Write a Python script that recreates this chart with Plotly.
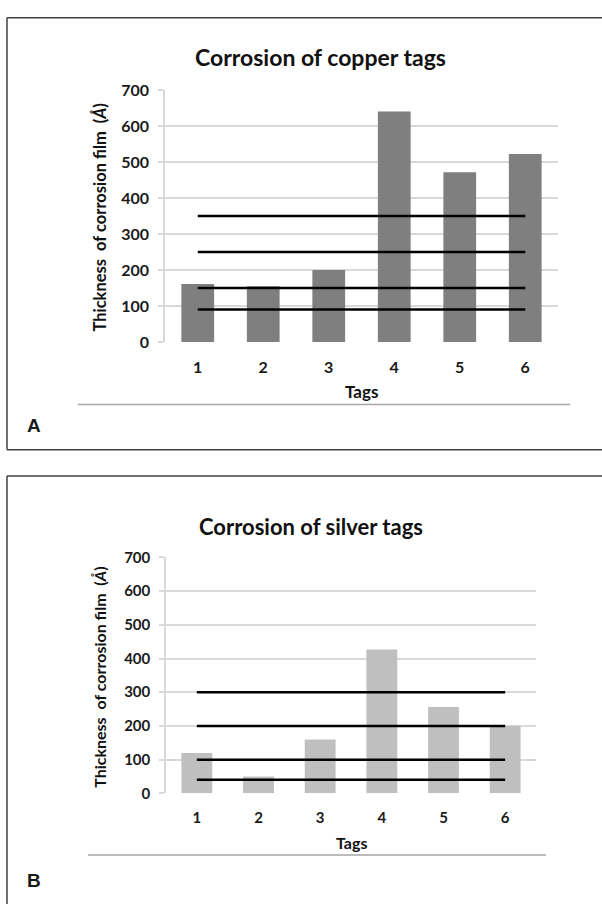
import plotly.graph_objects as go

# ---- data ----
tags = [1, 2, 3, 4, 5, 6]
copper_thickness = [161, 155, 200, 641, 472, 523]
silver_thickness = [120, 50, 160, 427, 256, 200]
copper_levels = [350, 250, 150, 90]
silver_levels = [300, 200, 100, 40]
y_ticks = [0, 100, 200, 300, 400, 500, 600, 700]

W, H = 602, 913
FONT = "Lato"


def px(x):
    return x / W


def py(y):
    return 1 - y / H


fig = go.Figure()

# panel A
fig.add_trace(go.Bar(x=tags, y=copper_thickness, marker_color="#7f7f7f",
                     marker_line_width=0, xaxis="x", yaxis="y", showlegend=False))
for lv in copper_levels:
    fig.add_trace(go.Scatter(x=tags, y=[lv] * len(tags), mode="lines",
                             line=dict(color="black", width=2.5),
                             xaxis="x", yaxis="y", showlegend=False))

# panel B
fig.add_trace(go.Bar(x=tags, y=silver_thickness, marker_color="#bfbfbf",
                     marker_line_width=0, xaxis="x2", yaxis="y2", showlegend=False))
for lv in silver_levels:
    fig.add_trace(go.Scatter(x=tags, y=[lv] * len(tags), mode="lines",
                             line=dict(color="black", width=2.5),
                             xaxis="x2", yaxis="y2", showlegend=False))


def xaxis(dom, fs, anchor):
    return dict(domain=dom, anchor=anchor, range=[0.5, 6.5], tickvals=tags,
                showgrid=False, zeroline=False, showline=False, ticks="",
                tickfont=dict(family=FONT, size=fs, color="#1a1a1a", weight="bold"),
                ticklabelstandoff=14, fixedrange=True)


def yaxis(dom, fs, anchor):
    return dict(domain=dom, anchor=anchor, range=[0, 700], tickvals=y_ticks,
                showgrid=True, gridcolor="#d9d9d9", gridwidth=1.5,
                zeroline=False, showline=True, linecolor="#d9d9d9", linewidth=1.5,
                ticks="outside", ticklen=5, tickcolor="#d9d9d9", tickwidth=1.5,
                tickfont=dict(family=FONT, size=fs, color="#1a1a1a", weight="bold"),
                ticklabelstandoff=6, fixedrange=True)


fig.update_layout(
    width=W, height=H, margin=dict(l=0, r=0, t=0, b=0),
    paper_bgcolor="white", plot_bgcolor="white",
    bargap=0.5, hovermode=False,
    xaxis=xaxis([px(165), px(558)], 16, "y"),
    yaxis=yaxis([py(339), py(82)], 16, "x"),
    xaxis2=xaxis([px(166), px(536)], 15, "y2"),
    yaxis2=yaxis([py(800), py(559)], 15, "x2"),
)

FRAME = dict(color="#404040", width=1.5)
SEP = dict(color="#a6a6a6", width=1.5)


def hline(x0, x1, y, line):
    return dict(type="line", xref="paper", yref="paper", x0=px(x0), x1=px(x1),
                y0=py(y), y1=py(y), line=line)


def vline(x, y0, y1, line):
    return dict(type="line", xref="paper", yref="paper", x0=px(x), x1=px(x),
                y0=py(y0), y1=py(y1), line=line)


shapes = [
    # panel A frame (left, top, bottom)
    vline(7, 8, 449, FRAME), hline(7, 602, 8, FRAME), hline(7, 602, 449, FRAME),
    # panel B frame
    vline(7, 476, 913, FRAME), hline(7, 602, 476, FRAME),
    # separators
    hline(78, 570, 403, SEP),
    hline(88, 546, 863, SEP),
]
fig.update_layout(shapes=shapes)

ann = []


def text(x, y, s, size, family=FONT, angle=0, color="#111111"):
    ann.append(dict(x=px(x), y=py(y), xref="paper", yref="paper", text=s, showarrow=False,
                    xanchor="center", yanchor="middle", textangle=angle,
                    font=dict(family=family, size=size, color=color, weight="bold")))


text(320, 48, "Corrosion of copper tags", 23)
text(311, 527, "Corrosion of silver tags", 22)
text(100, 212, "Thickness  of corrosion film  (<i>Å</i>)", 16.5, angle=-90)
text(100, 682, "Thickness  of corrosion film  (<i>Å</i>)", 16, angle=-90)
text(361, 390, "Tags", 17)
text(351, 850, "Tags", 16)
text(34, 424, "A", 19, family="Liberation Sans", color="#1a1a1a")
text(34, 889, "B", 19, family="Liberation Sans", color="#1a1a1a")
fig.update_layout(annotations=ann)

fig.write_html("out.html", config={"displayModeBar": False},
               post_script="document.body.style.margin='0';document.body.style.overflow='hidden';")
